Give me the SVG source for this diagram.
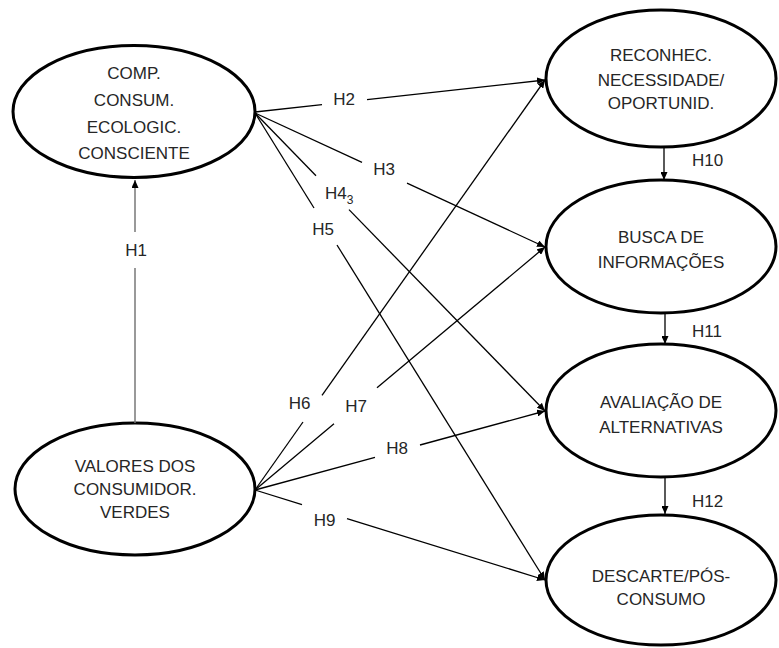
<svg xmlns="http://www.w3.org/2000/svg" width="779" height="648" viewBox="0 0 779 648">
<defs>
<marker id="arr" markerUnits="userSpaceOnUse" markerWidth="9" markerHeight="7" refX="8" refY="3.5" orient="auto">
<path d="M0,0 L8,3.5 L0,7 z" fill="#000"/>
</marker>
<style>
.node ellipse{fill:#fff;stroke:#000;stroke-width:3}
.node text{font-family:"Liberation Sans",Arial,sans-serif;font-size:17px;fill:#262626;text-anchor:middle}
.lbl{font-family:"Liberation Sans",Arial,sans-serif;font-size:17px;fill:#262626;text-anchor:middle}
.lbl.l{text-anchor:start}
.c{stroke:#000;stroke-width:1.3;fill:none}
.g{stroke:#777;stroke-width:1.5;fill:none}
</style>
</defs>
<rect width="779" height="648" fill="#fff"/>

<g id="comp" class="node">
<ellipse cx="134" cy="111.5" rx="121" ry="66"/>
<text x="134" y="79">COMP.</text>
<text x="134" y="106">CONSUM.</text>
<text x="134" y="133">ECOLOGIC.</text>
<text x="134" y="159">CONSCIENTE</text>
</g>
<g id="valores" class="node">
<ellipse cx="135" cy="489" rx="120" ry="66"/>
<text x="135" y="472">VALORES DOS</text>
<text x="135" y="495">CONSUMIDOR.</text>
<text x="135" y="518">VERDES</text>
</g>
<g id="reconhec" class="node">
<ellipse cx="661" cy="78.5" rx="115" ry="68.5"/>
<text x="661" y="61">RECONHEC.</text>
<text x="661" y="86">NECESSIDADE/</text>
<text x="661" y="109">OPORTUNID.</text>
</g>
<g id="busca" class="node">
<ellipse cx="661" cy="246.5" rx="115" ry="66.5"/>
<text x="661" y="243">BUSCA DE</text>
<text x="661" y="268">INFORMAÇÕES</text>
</g>
<g id="avaliacao" class="node">
<ellipse cx="661" cy="410.5" rx="115" ry="66.5"/>
<text x="661" y="408">AVALIAÇÃO DE</text>
<text x="661" y="433">ALTERNATIVAS</text>
</g>
<g id="descarte" class="node">
<ellipse cx="661" cy="580" rx="115" ry="65"/>
<text x="661" y="582">DESCARTE/PÓS-</text>
<text x="661" y="605">CONSUMO</text>
</g>

<g id="connectors">
<!-- H1 -->
<line class="g" x1="135" y1="423" x2="135" y2="268"/>
<line class="g" x1="135" y1="232" x2="135" y2="180" marker-end="url(#arr)"/>
<text class="lbl" x="136" y="256">H1</text>
<!-- H2 -->
<line class="c" x1="255" y1="112" x2="322" y2="104.6"/>
<line class="c" x1="367" y1="99.6" x2="545" y2="80" marker-end="url(#arr)"/>
<text class="lbl" x="344" y="105">H2</text>
<!-- H3 -->
<line class="c" x1="255" y1="113" x2="362" y2="162.4"/>
<line class="c" x1="407" y1="183.2" x2="545" y2="247" marker-end="url(#arr)"/>
<text class="lbl" x="384" y="175">H3</text>
<!-- H4 -->
<line class="c" x1="255" y1="113" x2="316" y2="175.7"/>
<line class="c" x1="349" y1="209.6" x2="545" y2="411" marker-end="url(#arr)"/>
<text class="lbl l" x="325" y="199">H4<tspan font-size="12" dy="5">3</tspan></text>
<!-- H5 -->
<line class="c" x1="255" y1="113" x2="314" y2="208"/>
<line class="c" x1="337" y1="245" x2="545" y2="580" marker-end="url(#arr)"/>
<text class="lbl" x="323" y="235">H5</text>
<!-- H6 -->
<line class="c" x1="255" y1="490" x2="303" y2="422"/>
<line class="c" x1="322" y1="395.3" x2="545" y2="80" marker-end="url(#arr)"/>
<text class="lbl" x="299.5" y="409">H6</text>
<!-- H7 -->
<line class="c" x1="255" y1="490" x2="334" y2="423.8"/>
<line class="c" x1="377" y1="387.8" x2="545" y2="247" marker-end="url(#arr)"/>
<text class="lbl" x="356" y="412">H7</text>
<!-- H8 -->
<line class="c" x1="255" y1="490" x2="375" y2="457.3"/>
<line class="c" x1="420" y1="445" x2="545" y2="411" marker-end="url(#arr)"/>
<text class="lbl" x="397" y="454">H8</text>
<!-- H9 -->
<line class="c" x1="255" y1="490" x2="302" y2="504.6"/>
<line class="c" x1="347" y1="518.6" x2="545" y2="580" marker-end="url(#arr)"/>
<text class="lbl" x="324.5" y="526">H9</text>
<!-- H10 -->
<line class="c" x1="664" y1="147" x2="664" y2="180" marker-end="url(#arr)"/>
<text class="lbl l" x="692" y="166">H10</text>
<!-- H11 -->
<line class="c" x1="665" y1="313" x2="665" y2="344" marker-end="url(#arr)"/>
<text class="lbl l" x="692" y="337">H11</text>
<!-- H12 -->
<line class="c" x1="665" y1="477" x2="665" y2="514" marker-end="url(#arr)"/>
<text class="lbl l" x="692" y="507">H12</text>
</g>
</svg>
